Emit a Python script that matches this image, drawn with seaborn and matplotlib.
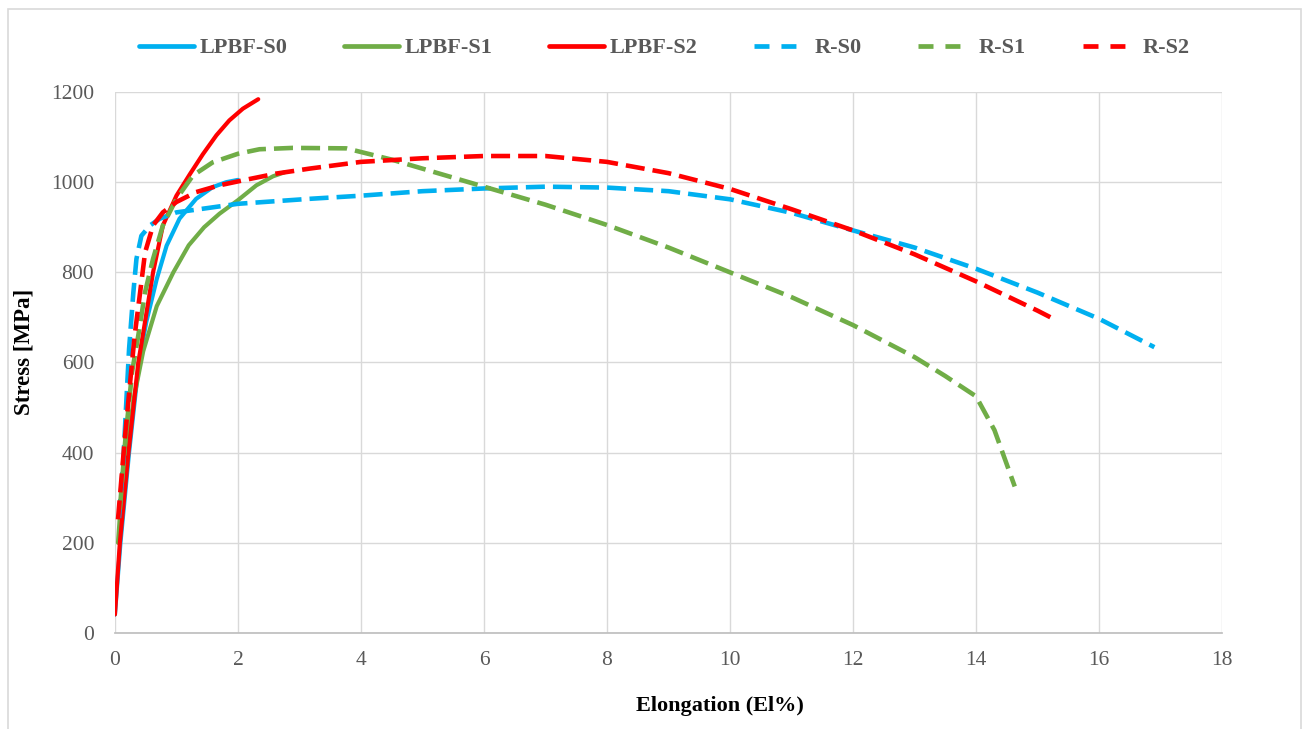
import matplotlib
matplotlib.use("Agg")
import matplotlib.pyplot as plt
import seaborn as sns
import pandas as pd
from matplotlib.patches import Rectangle
from matplotlib.lines import Line2D

sns.set_theme(style="white")
plt.rcParams['font.family'] = ['Liberation Serif', 'DejaVu Serif']
plt.rcParams['lines.scale_dashes'] = False

# ---- data ----
lpbf_s0_x = [0.0, 0.09, 0.23, 0.39, 0.51, 0.68, 0.84, 1.05, 1.32, 1.59, 1.81, 2.0]
lpbf_s0_y = [41, 200, 400, 600, 690, 785, 859, 919, 963, 989, 1000, 1005]

lpbf_s1_x = [0.05, 0.08, 0.19, 0.30, 0.46, 0.68, 0.95, 1.20, 1.45, 1.70, 2.0, 2.30, 2.57, 2.76]
lpbf_s1_y = [200, 259, 400, 515, 625, 725, 800, 860, 900, 930, 960, 993, 1013, 1022]

lpbf_s2_x = [0.0, 0.08, 0.22, 0.38, 0.47, 0.62, 0.78, 1.0, 1.22, 1.43, 1.65, 1.86, 2.08, 2.33]
lpbf_s2_y = [41, 200, 400, 600, 674, 800, 904, 970, 1018, 1062, 1104, 1137, 1163, 1184]

r_s0_x = [0.065, 0.135, 0.19, 0.23, 0.30, 0.35, 0.43, 0.57, 0.73, 1.0, 1.32, 2.0, 3.16, 4, 5, 6, 7, 8, 9, 10, 11, 12, 13, 14, 15, 16, 16.9]
r_s0_y = [255, 378, 526, 630, 756, 830, 881, 904, 919, 933, 939, 952, 963, 970, 980, 986, 990, 988, 980, 962, 932, 893, 855, 808, 755, 697, 634]

r_s1_x = [0.08, 0.17, 0.28, 0.38, 0.49, 0.62, 0.78, 1.0, 1.27, 1.59, 2.0, 2.35, 2.89, 3.76, 4.5, 5, 6, 7, 8, 9, 10, 11, 12, 13, 13.5, 14.0, 14.3, 14.63]
r_s1_y = [274, 430, 580, 660, 756, 830, 904, 963, 1015, 1044, 1063, 1073, 1076, 1075, 1050, 1030, 990, 950, 905, 855, 800, 745, 683, 612, 570, 525, 450, 325]

r_s2_x = [0.05, 0.16, 0.25, 0.32, 0.41, 0.49, 0.62, 0.78, 1.0, 1.32, 1.70, 2.08, 2.62, 3.16, 4, 5, 6, 7, 8, 9, 10, 11, 12, 13, 14, 15, 15.3]
r_s2_y = [252, 430, 560, 659, 756, 844, 904, 933, 956, 978, 993, 1004, 1019, 1030, 1045, 1053, 1058, 1058, 1045, 1020, 985, 940, 893, 840, 780, 715, 694]

labels = ["LPBF-S0", "LPBF-S1", "LPBF-S2", "R-S0", "R-S1", "R-S2"]
x_ticks = [0, 2, 4, 6, 8, 10, 12, 14, 16, 18]
y_ticks = [0, 200, 400, 600, 800, 1000, 1200]

BLUE, GREEN, RED = "#00B0F0", "#70AD47", "#FF0000"
series = [
    (lpbf_s0_x, lpbf_s0_y, BLUE, "-"),
    (lpbf_s1_x, lpbf_s1_y, GREEN, "-"),
    (lpbf_s2_x, lpbf_s2_y, RED, "-"),
    (r_s0_x, r_s0_y, BLUE, "--"),
    (r_s1_x, r_s1_y, GREEN, "--"),
    (r_s2_x, r_s2_y, RED, "--"),
]

fig = plt.figure(figsize=(13.06, 7.29), dpi=100)
ax = fig.add_axes([0.088, 0.1317, 0.8477, 0.7421])

PLOT_DASH = (0, (13.7, 5.8))
LEG_DASH = (0, (10.8, 8.6, 10.8, 30))

handles = []
for (xs, ys, c, ls), lab in zip(series, labels):
    df = pd.DataFrame({"x": xs, "y": ys})
    lw = 3.0 if ls == "-" else 3.3
    sns.lineplot(data=df, x="x", y="y", ax=ax, color=c, sort=False,
                 estimator=None, linewidth=lw, legend=False)
    ln = ax.lines[-1]
    ln.set_solid_joinstyle("round")
    if ls == "--":
        ln.set_linestyle(PLOT_DASH)
        ln.set_dash_capstyle("butt")
    handles.append(Line2D([], [], color=c, linewidth=3.4,
                          linestyle="-" if ls == "-" else LEG_DASH,
                          dash_capstyle="butt", solid_capstyle="round"))

ax.set_xlim(0, 18)
ax.set_ylim(0, 1200)
ax.set_xticks(x_ticks)
ax.set_yticks(y_ticks)
ax.grid(True, color="#D9D9D9", linewidth=1.0)
for s in ["top", "right", "left"]:
    ax.spines[s].set_visible(False)
ax.spines["bottom"].set_color("#BFBFBF")
ax.tick_params(axis="x", labelsize=15.5, colors="#595959", length=0, pad=13)
ax.tick_params(axis="y", labelsize=15.5, colors="#595959", length=0, pad=15)

ax.set_xlabel("Elongation (El%)", fontsize=16, fontweight="bold", color="black")
ax.set_ylabel("Stress [MPa]", fontsize=16.5, fontweight="bold", color="black")
ax.xaxis.set_label_coords(0.5465, -0.116)
ax.yaxis.set_label_coords(-0.0723, 0.52)

leg = fig.legend(handles, labels, loc="center", bbox_to_anchor=(0.5088, 0.934),
                 ncol=6, frameon=False, handlelength=2.48, handletextpad=0.22,
                 columnspacing=2.57,
                 prop={"family": "Liberation Serif", "weight": "bold", "size": 16})
for t in leg.get_texts():
    t.set_color("#595959")

fig.patches.append(Rectangle((0.006, -0.01), 0.99, 0.997, transform=fig.transFigure,
                             fill=False, edgecolor="#D9D9D9", linewidth=1.2))

fig.savefig("out.png", dpi=100)
